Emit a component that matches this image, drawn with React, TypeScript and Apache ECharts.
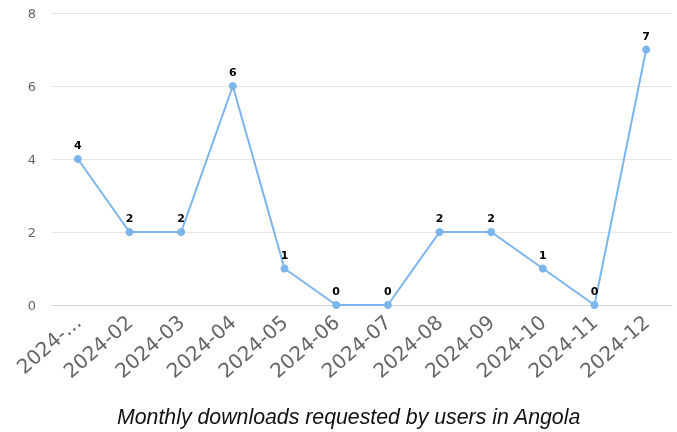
import React, { useEffect, useRef } from "react";
import * as echarts from "echarts";

const categories = ["2024-01", "2024-02", "2024-03", "2024-04", "2024-05", "2024-06", "2024-07", "2024-08", "2024-09", "2024-10", "2024-11", "2024-12"];
const downloads = [4, 2, 2, 6, 1, 0, 0, 2, 2, 1, 0, 7];
const yTicks = { min: 0, max: 8, interval: 2 };
const titleText = "Monthly downloads requested by users in Angola";

export default function App() {
  const ref = useRef<HTMLDivElement>(null);
  useEffect(() => {
    if (!ref.current) return;
    const chart = echarts.init(ref.current, null, { renderer: "svg" });
    chart.setOption({
      animation: false,
      title: {
        text: titleText,
        left: 117,
        top: 406,
        padding: 0,
        textStyle: { fontFamily: "Liberation Sans", fontStyle: "italic", fontWeight: "normal", fontSize: 21.3, color: "#111" },
      },
      grid: { left: 52, right: 5, top: 13, bottom: 127 },
      xAxis: {
        type: "category",
        data: categories,
        boundaryGap: true,
        axisLine: { lineStyle: { color: "#ccd6eb" } },
        axisTick: { show: false },
        axisLabel: {
          rotate: 41,
          interval: 0,
          fontSize: 20,
          color: "#666",
          fontFamily: "DejaVu Sans",
          margin: 14,
          formatter: (v: string, i: number) => (i === 0 ? "2024-..." : v),
        },
      },
      yAxis: {
        type: "value",
        min: yTicks.min,
        max: yTicks.max,
        interval: yTicks.interval,
        axisLabel: { fontSize: 13, color: "#666", fontFamily: "DejaVu Sans", margin: 16 },
        splitLine: { lineStyle: { color: "#e6e6e6" } },
      },
      series: [
        {
          type: "line",
          data: downloads,
          symbol: "circle",
          symbolSize: 8,
          itemStyle: { color: "#7cb5ec" },
          lineStyle: { color: "#7cb5ec", width: 2 },
          label: { show: true, position: "top", fontSize: 11, fontWeight: "bold", color: "#000", fontFamily: "DejaVu Sans", distance: 4 },
        },
      ],
    });
    return () => chart.dispose();
  }, []);
  return <div ref={ref} style={{ position: "fixed", left: 0, top: 0, width: 677, height: 432 }} />;
}
